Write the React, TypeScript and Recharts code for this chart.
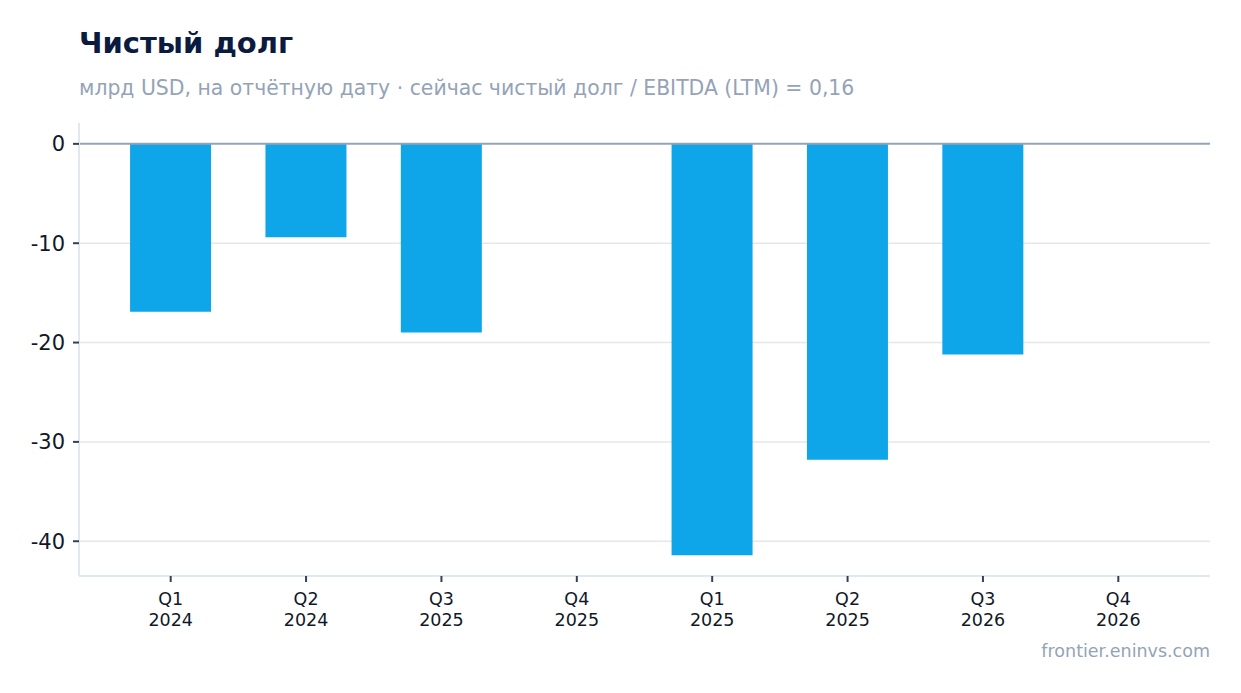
import { BarChart, Bar, XAxis, YAxis, CartesianGrid, ReferenceLine } from 'recharts';

const quarters = ['Q1', 'Q2', 'Q3', 'Q4', 'Q1', 'Q2', 'Q3', 'Q4'];
const years = ['2024', '2024', '2025', '2025', '2025', '2025', '2026', '2026'];
const netDebt: (number | null)[] = [-16.9, -9.4, -19.0, null, -41.4, -31.8, -21.2, null];
const yTicks = [0, -10, -20, -30, -40];

const data = quarters.map((q, i) => ({
  key: `p${i}`,
  quarter: q,
  year: years[i],
  value: netDebt[i],
}));

const FONT = '"DejaVu Sans", sans-serif';

const QuarterTick = ({ x, y, payload }: any) => {
  const row = data.find((d) => d.key === payload.value);
  return (
    <g transform={`translate(${x},${y})`}>
      <text textAnchor="middle" fill="#111827" fontSize={17.5} fontFamily={FONT}>
        <tspan x={0} dy={21}>{row?.quarter}</tspan>
        <tspan x={0} dy={21}>{row?.year}</tspan>
      </text>
    </g>
  );
};

export default function App() {
  return (
    <div style={{ position: 'absolute', left: 0, top: 0, width: 1241, height: 693, background: '#fff', fontFamily: FONT }}>
      <div style={{ position: 'absolute', left: 79, top: 26, fontSize: 29, fontWeight: 'bold', color: '#0b1a3f' }}>
        Чистый долг
      </div>
      <div style={{ position: 'absolute', left: 79, top: 76, fontSize: 20.4, color: '#94a3b8' }}>
        млрд USD, на отчётную дату · сейчас чистый долг / EBITDA (LTM) = 0,16
      </div>
      <div style={{ position: 'absolute', left: 0, top: 0 }}>
        <BarChart
          width={1241}
          height={640}
          data={data}
          margin={{ top: 123, right: 31, bottom: 0, left: 19 }}
          barCategoryGap="20%"
        >
          <CartesianGrid
            vertical={false}
            stroke="#e5e7eb"
            strokeWidth={1.5}
            horizontalValues={yTicks.slice(1)}
          />
          <XAxis
            dataKey="key"
            height={64}
            padding={{ left: 24, right: 24 }}
            axisLine={{ stroke: '#e2e8f0', strokeWidth: 2 }}
            tickLine={{ stroke: '#334155', strokeWidth: 2 }}
            tickSize={6}
            tick={<QuarterTick />}
            interval={0}
          />
          <YAxis
            width={60}
            domain={[-43.5, 2.1]}
            ticks={yTicks}
            allowDataOverflow
            axisLine={{ stroke: '#e2e8f0', strokeWidth: 2 }}
            tickLine={{ stroke: '#334155', strokeWidth: 2 }}
            tickSize={6}
            tickMargin={8}
            tick={{ fill: '#111827', fontSize: 21, fontFamily: FONT }}
          />
          <ReferenceLine y={0} stroke="#94a3b8" strokeWidth={2} />
          <Bar dataKey="value" fill="#0ea5e9" isAnimationActive={false} />
        </BarChart>
      </div>
      <div style={{ position: 'absolute', right: 31, top: 641, fontSize: 17.5, color: '#94a3b8' }}>
        frontier.eninvs.com
      </div>
    </div>
  );
}
